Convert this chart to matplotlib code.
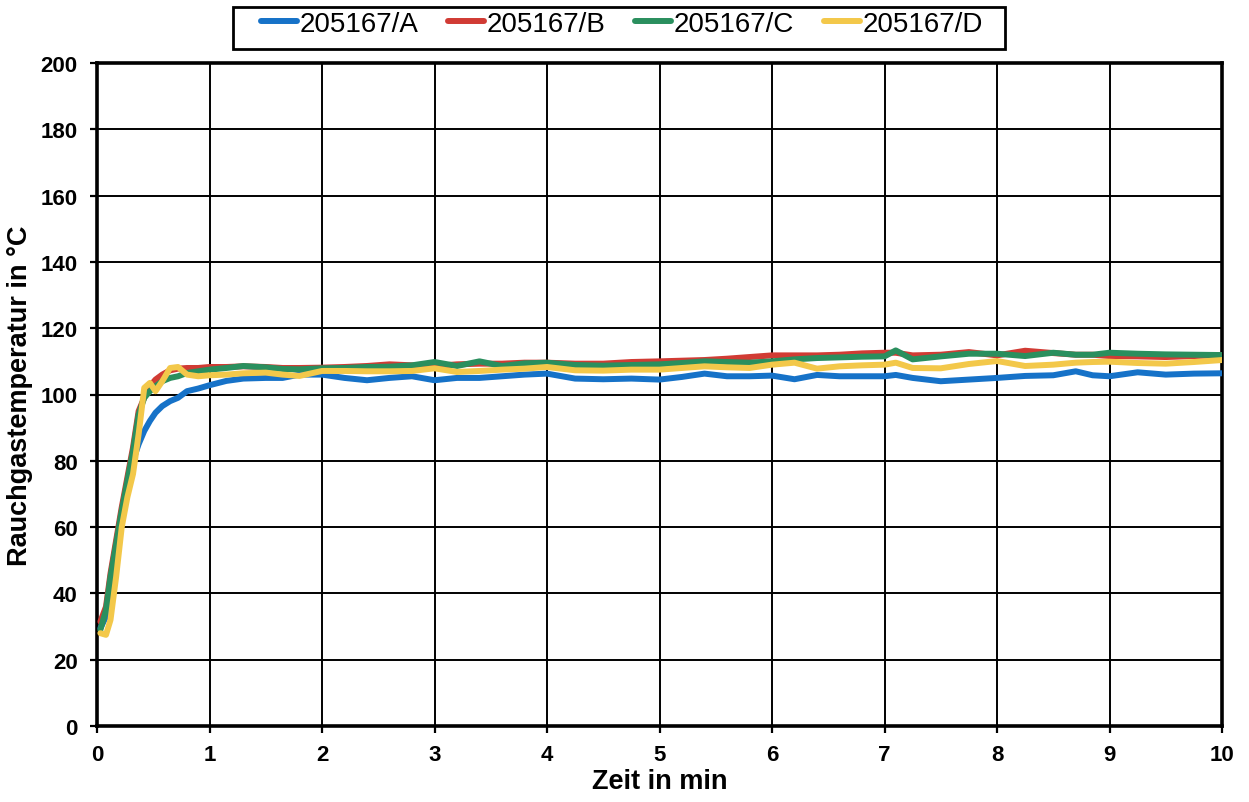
import matplotlib
matplotlib.use("Agg")
import matplotlib.pyplot as plt
from matplotlib.patches import Rectangle

plt.rcParams['font.family'] = ['Liberation Sans', 'DejaVu Sans']

# Time in minutes
time_min = [0.03, 0.08, 0.12, 0.17, 0.22, 0.27, 0.32, 0.37, 0.42, 0.47, 0.52, 0.58,
            0.65, 0.72, 0.8, 0.9, 1.0, 1.15, 1.3, 1.5, 1.65, 1.8, 2.0, 2.2, 2.4, 2.6,
            2.8, 3.0, 3.2, 3.4, 3.6, 3.8, 4.0, 4.25, 4.5, 4.75, 5.0, 5.2, 5.4, 5.6, 5.8,
            6.0, 6.2, 6.4, 6.6, 6.8, 7.0, 7.1, 7.25, 7.5, 7.75, 8.0, 8.25, 8.5, 8.7,
            8.85, 9.0, 9.25, 9.5, 9.75, 10.0]

temp_a = [29.5, 33, 42, 53, 63, 72, 80, 85, 89, 92, 94.5, 96.5,
          98, 99, 101, 101.8, 102.8, 104.1, 104.8, 105, 105, 106, 106, 105, 104.3, 105,
          105.5, 104.3, 105, 105, 105.5, 106, 106.3, 104.8, 104.6, 104.8, 104.5, 105.3, 106.3, 105.5, 105.5,
          105.7, 104.6, 105.9, 105.5, 105.5, 105.5, 105.9, 105, 104, 104.5, 105, 105.6, 105.8, 107,
          105.8, 105.5, 106.7, 106, 106.3, 106.4]

temp_b = [31.5, 36, 46, 56, 66, 75, 84, 95, 99, 102.5, 104.5, 106,
          107.3, 107.8, 108, 108, 108.3, 108.3, 108.5, 108.3, 108, 108, 108.1, 108.3, 108.6, 109.1,
          108.8, 108.6, 109.1, 109.3, 109.3, 109.6, 109.6, 109.3, 109.3, 109.8, 110, 110.2, 110.4, 110.8, 111.3,
          111.8, 111.8, 111.8, 112, 112.4, 112.6, 112.6, 111.8, 112, 112.8, 111.8, 113.2, 112.5, 112,
          112, 111.6, 111.5, 111.3, 111.6, 111.9]

temp_c = [29, 35, 45, 55, 65, 74, 83, 94, 99, 101, 102.5, 104,
          105, 105.5, 106.5, 107, 107.5, 108, 108.6, 108.2, 107.7, 107.6, 107.9, 108, 108.3, 108.4,
          108.8, 109.8, 108.6, 110, 108.6, 109.4, 109.6, 108.9, 108.7, 108.9, 109.1, 109.5, 110, 109.8, 109.6,
          110, 110.6, 111, 111.2, 111.4, 111.5, 113.3, 110.6, 111.5, 112.3, 112.3, 111.6, 112.6, 112,
          112, 112.6, 112.3, 112.1, 112, 111.9]

temp_d = [28, 27.5, 32, 45, 60, 69, 76, 88, 102, 103.5, 101, 104,
          108, 108.3, 106, 105.5, 105.8, 106, 106.4, 106.6, 106, 105.6, 107.1, 107.1, 107, 107,
          107.1, 107.9, 106.8, 107.1, 107.5, 107.8, 108.3, 107.3, 107.2, 107.5, 107.5, 108, 108.5, 108.2, 108,
          109, 109.6, 107.8, 108.5, 108.8, 109, 109.6, 108, 107.9, 109.2, 110.1, 108.6, 109, 109.6,
          109.8, 109.9, 109.5, 109.3, 109.8, 110.4]

series_names = ["205167/A", "205167/B", "205167/C", "205167/D"]
series_colors = ["#1672c8", "#d13b34", "#2a8f5e", "#f3c84a"]

x_ticks = list(range(0, 11))
y_ticks = list(range(0, 201, 20))

W, H = 1249, 803
fig = plt.figure(figsize=(W / 100, H / 100), dpi=100)
ax = fig.add_axes([97 / W, (H - 727) / H, (1222 - 97) / W, (727 - 64) / H])

handles = []
for vals, name, col in zip([temp_a, temp_b, temp_c, temp_d], series_names, series_colors):
    h, = ax.plot(time_min, vals, color=col, linewidth=4.3, label=name,
                 solid_capstyle='round', solid_joinstyle='round', zorder=3)
    handles.append(h)

ax.set_xlim(0, 10)
ax.set_ylim(0, 200)
ax.set_xticks(x_ticks)
ax.set_yticks(y_ticks)
ax.grid(True, color='black', linewidth=1.4, zorder=1)
ax.set_axisbelow(True)

for sp in ax.spines.values():
    sp.set_linewidth(2.6)
    sp.set_color('black')

ax.tick_params(axis='both', direction='out', length=5, width=1.6, colors='black',
               labelsize=16)
ax.tick_params(axis='y', pad=9)
ax.tick_params(axis='x', pad=8)
for lab in ax.get_xticklabels() + ax.get_yticklabels():
    lab.set_fontweight('bold')

ax.set_xlabel("Zeit in min", fontsize=19.5, fontweight='bold', labelpad=2)
ax.set_ylabel("Rauchgastemperatur in °C", fontsize=19.5, fontweight='bold', labelpad=5)

# Legend frame drawn as a figure rectangle
frame = Rectangle((233 / W, 1 - 50 / H), (1005 - 233) / W, (50 - 8) / H,
                  transform=fig.transFigure, fill=False, edgecolor='black',
                  linewidth=2.0, zorder=5)
fig.patches.append(frame)

leg = fig.legend(handles=handles, labels=series_names, loc='center',
                 bbox_to_anchor=(622 / W, 1 - 25 / H), ncol=4, fontsize=20,
                 frameon=False, handlelength=1.3, handletextpad=0.1,
                 columnspacing=1.05, borderpad=0.0, borderaxespad=0)

fig.savefig("out.png", dpi=100)
